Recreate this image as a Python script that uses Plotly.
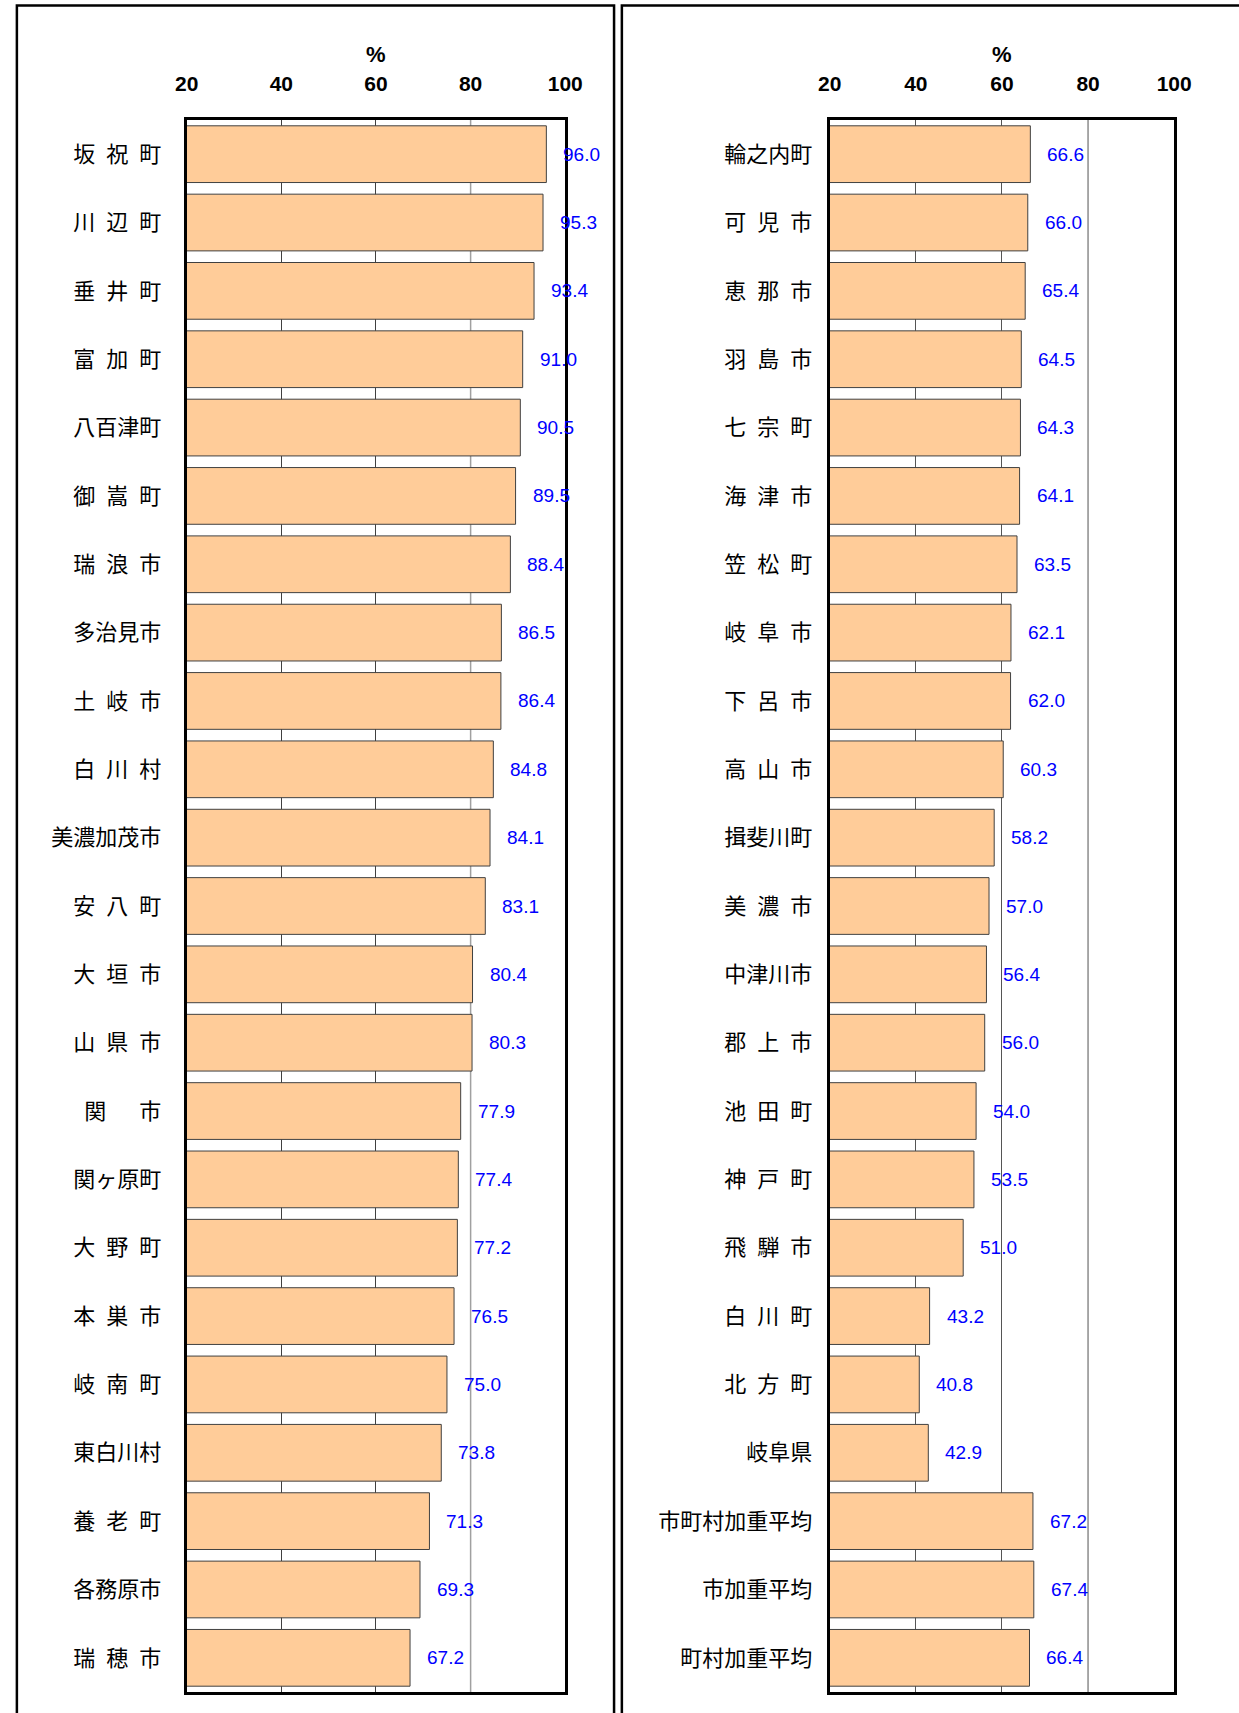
import plotly.graph_objects as go

W, H = 1239, 1713

left_names = ["坂\u2002祝\u2002町", "川\u2002辺\u2002町", "垂\u2002井\u2002町", "富\u2002加\u2002町", "八百津町",
              "御\u2002嵩\u2002町", "瑞\u2002浪\u2002市", "多治見市", "土\u2002岐\u2002市", "白\u2002川\u2002村",
              "美濃加茂市", "安\u2002八\u2002町", "大\u2002垣\u2002市", "山\u2002県\u2002市", "関\u3000\u2002市",
              "関ヶ原町", "大\u2002野\u2002町", "本\u2002巣\u2002市", "岐\u2002南\u2002町", "東白川村",
              "養\u2002老\u2002町", "各務原市", "瑞\u2002穂\u2002市"]
left_values = [96.0, 95.3, 93.4, 91.0, 90.5, 89.5, 88.4, 86.5, 86.4, 84.8, 84.1, 83.1,
               80.4, 80.3, 77.9, 77.4, 77.2, 76.5, 75.0, 73.8, 71.3, 69.3, 67.2]

right_names = ["輪之内町", "可\u2002児\u2002市", "恵\u2002那\u2002市", "羽\u2002島\u2002市", "七\u2002宗\u2002町",
               "海\u2002津\u2002市", "笠\u2002松\u2002町", "岐\u2002阜\u2002市", "下\u2002呂\u2002市", "高\u2002山\u2002市",
               "揖斐川町", "美\u2002濃\u2002市", "中津川市", "郡\u2002上\u2002市", "池\u2002田\u2002町",
               "神\u2002戸\u2002町", "飛\u2002騨\u2002市", "白\u2002川\u2002町", "北\u2002方\u2002町", "岐阜県",
               "市町村加重平均", "市加重平均", "町村加重平均"]
right_values = [66.6, 66.0, 65.4, 64.5, 64.3, 64.1, 63.5, 62.1, 62.0, 60.3, 58.2, 57.0,
                56.4, 56.0, 54.0, 53.5, 51.0, 43.2, 40.8, 42.9, 67.2, 67.4, 66.4]

tick_vals = [20, 40, 60, 80, 100]
x_range = [20, 100]
unit_label = "%"

BAR_COLOR = "#FFCC99"
BAR_EDGE = "#404040"
LABEL_BLUE = "#0000FF"
CJK = "Noto Sans CJK JP"
LAT = "Liberation Sans, Arial, sans-serif"

fig = go.Figure()
fig.add_trace(go.Bar(x=left_values, y=left_names, orientation="h",
                     marker=dict(color=BAR_COLOR, line=dict(color=BAR_EDGE, width=1)),
                     xaxis="x", yaxis="y", showlegend=False, hoverinfo="x+y"))
fig.add_trace(go.Bar(x=right_values, y=right_names, orientation="h",
                     marker=dict(color=BAR_COLOR, line=dict(color=BAR_EDGE, width=1)),
                     xaxis="x2", yaxis="y2", showlegend=False, hoverinfo="x+y"))

ydom = [1 - 1692 / H, 1 - 120 / H]
xdom1 = [179 / W, 567 / W]
xdom2 = [838 / W, 1191 / W]

def xaxis_cfg(domain, anchor, minor_vals, gridcolor):
    return dict(domain=domain, anchor=anchor, range=x_range, side="top",
                tickmode="array", tickvals=tick_vals, ticks="", ticklabelstandoff=18,
                tickfont=dict(family=LAT, size=21, color="black", weight="bold"),
                showgrid=False, zeroline=False,
                minor=dict(tickmode="array", tickvals=minor_vals, showgrid=True,
                           gridcolor=gridcolor, gridwidth=1, ticks=""),
                showline=True, mirror=True, linecolor="black", linewidth=3,
                fixedrange=True)

def yaxis_cfg(anchor, standoff):
    return dict(domain=ydom, anchor=anchor, autorange="reversed", type="category",
                ticks="", ticklabelstandoff=standoff,
                tickfont=dict(family=CJK, size=22, color="black"),
                showgrid=False, zeroline=False,
                showline=True, mirror=True, linecolor="black", linewidth=3,
                fixedrange=True)

fig.update_layout(
    width=W, height=H,
    margin=dict(l=0, r=0, t=0, b=0),
    paper_bgcolor="white", plot_bgcolor="white",
    bargap=0.17,
    xaxis=xaxis_cfg(xdom1, "y", [40, 60], "#404040"),
    yaxis=yaxis_cfg("x", 18),
    xaxis2=xaxis_cfg(xdom2, "y2", [40, 60], "#555555"),
    yaxis2=yaxis_cfg("x2", 10),
)

# light reference line at 80 on each panel
for xr, yr, col in (("x", "y", "#A0A0A0"), ("x2", "y2", "#8C8C8C")):
    fig.add_shape(type="line", xref=xr, yref=f"{yr} domain", x0=80, x1=80, y0=0, y1=1,
                  line=dict(color=col, width=1.5), layer="below")

# value labels
for names, vals, xr, yr in ((left_names, left_values, "x", "y"),
                            (right_names, right_values, "x2", "y2")):
    for n, v in zip(names, vals):
        fig.add_annotation(x=v, y=n, xref=xr, yref=yr, text=f"{v:.1f}",
                           showarrow=False, xanchor="left", xshift=15,
                           font=dict(family=LAT, size=19, color=LABEL_BLUE))

# unit labels
for dom in (xdom1, xdom2):
    fig.add_annotation(x=(dom[0] + dom[1]) / 2, y=1 - 55 / H, xref="paper", yref="paper",
                       text=f"<b>{unit_label}</b>", showarrow=False,
                       xanchor="center", yanchor="middle",
                       font=dict(family=LAT, size=22, color="black"))

# outer panel frames
fig.add_shape(type="rect", xref="paper", yref="paper", x0=5 / W, x1=617 / W,
              y0=-0.02, y1=1 - 5.5 / H, line=dict(color="black", width=2.5), layer="below")
fig.add_shape(type="rect", xref="paper", yref="paper", x0=625 / W, x1=1.05,
              y0=-0.02, y1=1 - 5.5 / H, line=dict(color="black", width=2.5), layer="below")

fig.write_html("out.html", config={"displayModeBar": False},
               post_script="document.body.style.margin='0';document.body.style.overflow='hidden';")
